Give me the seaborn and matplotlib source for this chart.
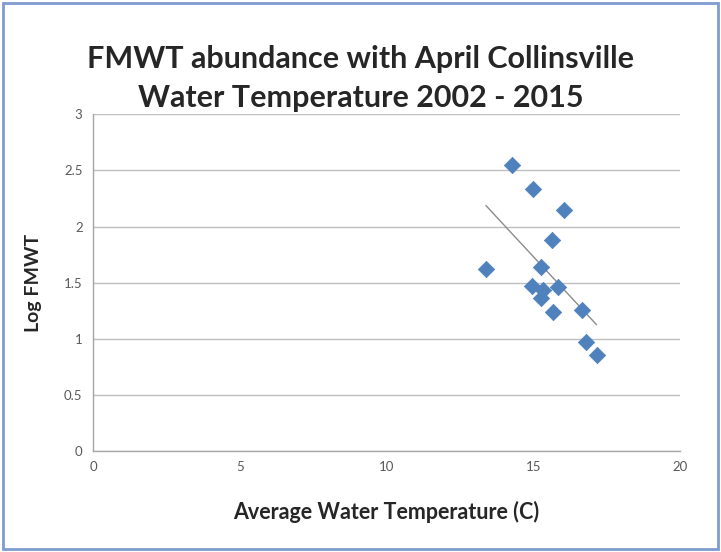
import numpy as np
import pandas as pd
import seaborn as sns
import matplotlib.pyplot as plt
from matplotlib.patches import Rectangle

# values
water_temp = [14.27, 15.00, 16.05, 15.63, 13.39, 15.25, 14.95, 15.34, 15.26, 15.84, 15.66, 16.68, 16.80, 17.16]
log_fmwt = [2.55, 2.33, 2.15, 1.88, 1.62, 1.635, 1.47, 1.43, 1.365, 1.46, 1.24, 1.26, 0.97, 0.855]

df = pd.DataFrame({'temp': water_temp, 'log_fmwt': log_fmwt})

# linear trendline over the data range
slope, intercept = np.polyfit(df['temp'], df['log_fmwt'], 1)
trend = pd.DataFrame({'temp': [df['temp'].min(), df['temp'].max()]})
trend['fit'] = slope * trend['temp'] + intercept

sns.set_style('white')
plt.rcParams['font.family'] = ['Lato', 'DejaVu Sans']

fig = plt.figure(figsize=(7.21, 5.52), dpi=100)
ax = fig.add_axes([0.129, 0.183, 0.814, 0.610])

sns.lineplot(data=trend, x='temp', y='fit', color='#8c8c8c', linewidth=1.0, ax=ax)
sns.scatterplot(data=df, x='temp', y='log_fmwt', marker='D', s=70, color='#4f81bd',
                edgecolor='#4f81bd', linewidth=0.5, zorder=3, ax=ax)

ax.set_xlim(0, 20)
ax.set_ylim(0, 3)
ax.set_xticks([0, 5, 10, 15, 20])
ax.set_yticks([0, 0.5, 1, 1.5, 2, 2.5, 3])
ax.set_yticklabels(['0', '0.5', '1', '1.5', '2', '2.5', '3'])
ax.yaxis.grid(True, color='#bfbfbf', linewidth=1.0)
ax.xaxis.grid(False)
for side in ['top', 'right']:
    ax.spines[side].set_visible(False)
for side in ['left', 'bottom']:
    ax.spines[side].set_color('#a6a6a6')
    ax.spines[side].set_linewidth(1.0)
ax.tick_params(axis='both', colors='#a6a6a6', labelcolor='#595959', labelsize=9.5,
               length=4, width=1, direction='out')

ax.set_xlabel('Average Water Temperature (C)', fontsize=15.5, fontweight='bold', labelpad=20)
ax.set_ylabel('Log FMWT', fontsize=14, fontweight='bold', labelpad=16)
fig.suptitle('FMWT abundance with April Collinsville\nWater Temperature 2002 - 2015',
             fontsize=22, fontweight='bold', y=0.918, linespacing=1.45)

# outer chart border
fig.patches.append(Rectangle((0.004, 0.006), 0.992, 0.988, transform=fig.transFigure,
                             fill=False, edgecolor='#7f9ccf', linewidth=2))

fig.savefig('out.png', dpi=100)
